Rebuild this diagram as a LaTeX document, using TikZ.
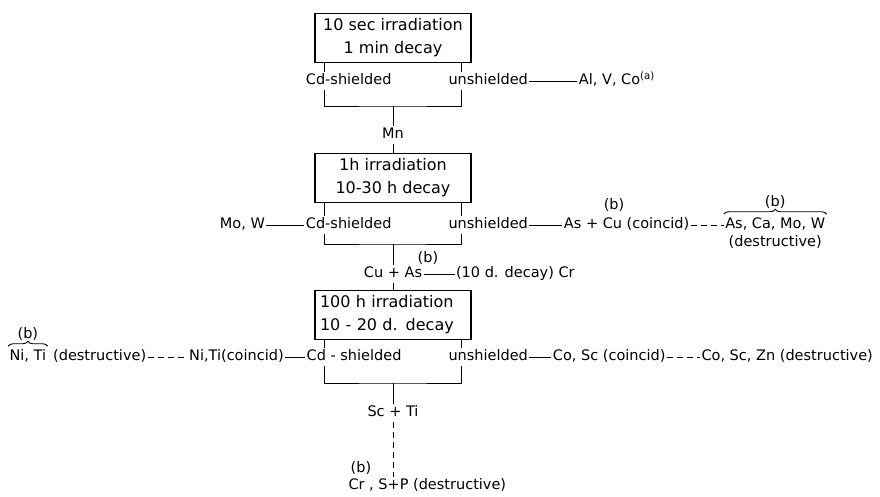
\documentclass[tikz,border=0pt]{standalone}
\usepackage{fontspec}
\setmainfont{DejaVu Sans}
\usetikzlibrary{positioning,decorations.pathreplacing}

\begin{document}
\begin{tikzpicture}[x=1pt, y=-1pt, node distance=33pt, line width=1pt,
  every node/.style={font=\fontsize{14.5}{17}\selectfont, inner sep=1pt},
  box/.style={draw, line width=1.2pt, align=center, minimum width=156pt, minimum height=49pt, inner sep=4pt, font=\fontsize{16}{18}\selectfont},
  lbl/.style={text height=11pt, text depth=3.5pt},
  brace/.style={decorate, decoration={brace, amplitude=5pt}, line width=0.9pt},
  dashlink/.style={dash pattern=on 6pt off 4pt}]
\useasboundingbox (0,0) rectangle (880,496);

% irradiation steps
\node[box] (irrA) at (393,38) {10 sec irradiation\\[5pt]1 min decay};
\node[box] (irrB) at (393,178) {1h irradiation\\[5pt]10-30 h decay};
\node[box, align=left, text width=146pt] (irrC) at (393,315) {100 h irradiation\\[5pt]10 - 20 d. decay};

% first step
\node[lbl, anchor=east] (cdA) at (393,81) {Cd-shielded};
\node[lbl, anchor=west] (unA) at (447,81) {unshielded};
\node[lbl, right=48pt of unA] (alA) {Al, V, Co\textsuperscript{(a)}};
\coordinate (brA) at (393,106);
\node[lbl] (mn) at (393,135) {Mn};

% second step
\node[lbl, anchor=east] (cdB) at (393,225) {Cd-shielded};
\node[lbl, left=38pt of cdB] (mow) {Mo, W};
\node[lbl, anchor=west] (unB) at (447,225) {unshielded};
\node[lbl, right=33pt of unB] (ascu) {As + Cu (coincid)};
\node[lbl] (bCu) at (614,206) {(b)};
\node[lbl, right=33pt of ascu] (asca) {As, Ca, Mo, W};
\node[lbl, below=0pt of asca] (destrB) {(destructive)};
\draw[brace] ([yshift=2pt]asca.north west) -- ([yshift=2pt]asca.north east) node[lbl, midway, above=3pt] (bAsca) {(b)};
\coordinate (brB) at (393,244);
\node[lbl] (cuas) at (393,274) {Cu + As};
\node[lbl] (bAs) at (428,259) {(b)};
\node[lbl, right=31pt of cuas] (decCr) {(10 d. decay) Cr};

% third step
\node[lbl, anchor=east] (cdC) at (403,357) {Cd - shielded};
\node[lbl, left=20pt of cdC] (nitiCo) {Ni,Ti(coincid)};
\node[lbl, left=40pt of nitiCo] (destrC) {(destructive)};
\node[lbl, left=4pt of destrC] (niti) {Ni, Ti};
\draw[brace] ([yshift=2pt]niti.north west) -- ([yshift=2pt]niti.north east) node[lbl, midway, above=3pt] (bNi) {(b)};
\node[lbl, anchor=west] (unC) at (447,357) {unshielded};
\node[lbl, right=22pt of unC] (coscCo) {Co, Sc (coincid)};
\node[lbl, right=33pt of coscCo] (coscZn) {Co, Sc, Zn (destructive)};
\coordinate (brC) at (393,383);
\node[lbl] (scti) at (393,413) {Sc + Ti};
\node[lbl, anchor=west] (crsp) at (347,486) {Cr , S+P (destructive)};
\node[lbl] (bCr) at (361,469) {(b)};

% legs and brackets under each box
\foreach \r in {A,B,C} {
  \coordinate (l\r) at ([xshift=10pt]irr\r.south west);
  \coordinate (r\r) at ([xshift=-10pt]irr\r.south east);
  \draw (l\r) -- (l\r |- cd\r.north);
  \draw (r\r) -- (r\r |- un\r.north);
  \draw (l\r |- cd\r.south) |- (br\r) -| (r\r |- un\r.south);
}
\foreach \a/\b in {brA/mn, mn/irrB, brB/cuas, cuas/irrC, brC/scti} \draw (\a) -- (\b);
\foreach \a/\b in {unA/alA, mow/cdB, unB/ascu, cuas/decCr, nitiCo/cdC, unC/coscCo} \draw (\a) -- (\b);
\foreach \a/\b in {ascu/asca, destrC/nitiCo, coscCo/coscZn} \draw[dashlink] (\a) -- (\b);
\draw[dashlink] (scti) -- (scti |- crsp.north);
\end{tikzpicture}
\end{document}
